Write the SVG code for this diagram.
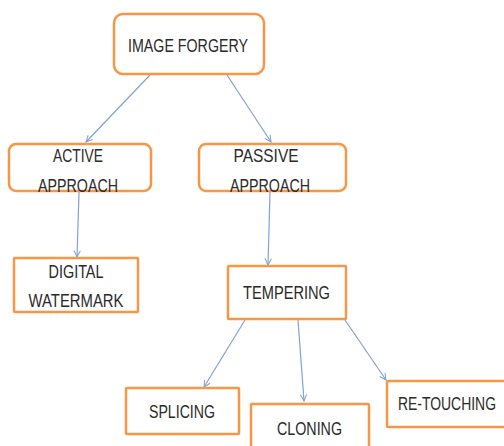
<svg xmlns="http://www.w3.org/2000/svg" width="504" height="446" viewBox="0 0 504 446">
<style>
.box{fill:#ffffff;stroke:#F79646;stroke-width:2.5}
.t{font-family:"Liberation Sans","Open Sans",sans-serif;font-size:19px;fill:#2a2a2a;text-anchor:middle}
.c{stroke:#7FA3D3;stroke-width:1.2;fill:none;marker-end:url(#ah)}
</style>
<defs>
<marker id="ah" viewBox="0 0 10 10" refX="9" refY="5" markerWidth="8" markerHeight="8" orient="auto" markerUnits="userSpaceOnUse">
<path d="M1,1 L9,5 L1,9" fill="none" stroke="#7FA3D3" stroke-width="1.3"/>
</marker>
</defs>
<rect width="504" height="446" fill="#ffffff"/>
<g id="connectors">
<line class="c" x1="150" y1="75" x2="86" y2="142"/>
<line class="c" x1="227" y1="75" x2="271" y2="142"/>
<line class="c" x1="79" y1="192" x2="77" y2="257"/>
<line class="c" x1="270" y1="192" x2="268" y2="265"/>
<line class="c" x1="245" y1="320" x2="204" y2="387"/>
<line class="c" x1="298" y1="320" x2="304" y2="401"/>
<line class="c" x1="345" y1="320" x2="386" y2="380"/>
</g>
<g id="image-forgery">
<rect class="box" x="114" y="14" width="150" height="60" rx="9"/>
<text class="t" x="188" y="52" textLength="120" lengthAdjust="spacingAndGlyphs">IMAGE FORGERY</text>
</g>
<g id="active-approach">
<rect class="box" x="9" y="144" width="142" height="47" rx="7"/>
<text class="t" x="78" y="162" textLength="50" lengthAdjust="spacingAndGlyphs">ACTIVE</text>
<text class="t" x="78" y="192" textLength="80" lengthAdjust="spacingAndGlyphs">APPROACH</text>
</g>
<g id="passive-approach">
<rect class="box" x="199" y="144" width="147" height="47" rx="7"/>
<text class="t" x="266" y="162" textLength="65" lengthAdjust="spacingAndGlyphs">PASSIVE</text>
<text class="t" x="270" y="192" textLength="80" lengthAdjust="spacingAndGlyphs">APPROACH</text>
</g>
<g id="digital-watermark">
<rect class="box" x="14" y="258" width="124" height="54" rx="1"/>
<text class="t" x="76" y="278" textLength="55" lengthAdjust="spacingAndGlyphs">DIGITAL</text>
<text class="t" x="76" y="307" textLength="95" lengthAdjust="spacingAndGlyphs">WATERMARK</text>
</g>
<g id="tempering">
<rect class="box" x="228" y="266" width="118" height="53" rx="1"/>
<text class="t" x="286.5" y="299" textLength="87" lengthAdjust="spacingAndGlyphs">TEMPERING</text>
</g>
<g id="splicing">
<rect class="box" x="126" y="388" width="113" height="46" rx="1"/>
<text class="t" x="182" y="418" textLength="66" lengthAdjust="spacingAndGlyphs">SPLICING</text>
</g>
<g id="cloning">
<rect class="box" x="251" y="404" width="118" height="50" rx="1"/>
<text class="t" x="309.5" y="435" textLength="65" lengthAdjust="spacingAndGlyphs">CLONING</text>
</g>
<g id="re-touching">
<rect class="box" x="387" y="381" width="125" height="46" rx="1"/>
<text class="t" x="447" y="410" textLength="98" lengthAdjust="spacingAndGlyphs">RE-TOUCHING</text>
</g>
</svg>
